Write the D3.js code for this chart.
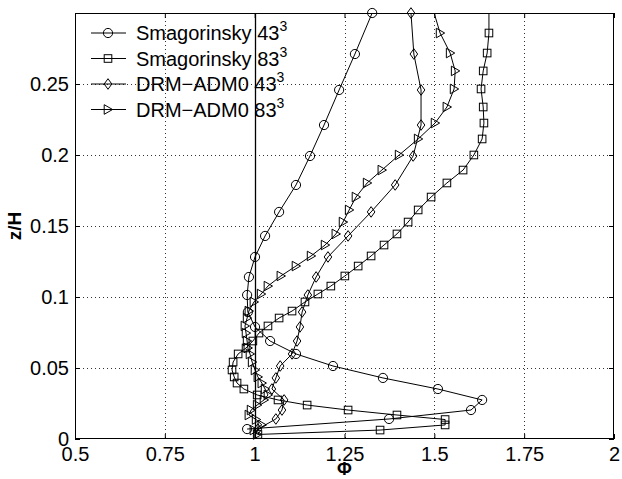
<!DOCTYPE html>
<html>
<head>
<meta charset="utf-8">
<script src="https://cdn.jsdelivr.net/npm/d3@7"></script>
<style>
  body { margin: 0; background: #fff; }
  text { font-family: "Liberation Sans", Arial, Helvetica, sans-serif; fill: #000; }
</style>
</head>
<body>
<svg id="chart" width="622" height="479"></svg>
<script>
// Axis ticks
const xTicks = [0.5, 0.75, 1, 1.25, 1.5, 1.75, 2];
const xTickLabels = ["0.5", "0.75", "1", "1.25", "1.5", "1.75", "2"];
const yTicks = [0, 0.05, 0.1, 0.15, 0.2, 0.25];
const yTickLabels = ["0", "0.05", "0.1", "0.15", "0.2", "0.25"];

// Legend entries (base text + superscript)
const seriesNames = ["Smagorinsky 43", "Smagorinsky 83", "DRM\u2212ADM0 43", "DRM\u2212ADM0 83"];
const seriesSup = ["3", "3", "3", "3"];
const seriesMarkers = ["circle", "square", "diamond", "triangle"];

// Vertical grid heights z/H
const z43 = [0.3000, 0.2711, 0.2458, 0.2211, 0.1993, 0.1789, 0.1599, 0.1430, 0.1282, 0.1141, 0.1014,
             0.0894, 0.0789, 0.0690, 0.0599, 0.0514, 0.0430, 0.0352, 0.0275, 0.0204, 0.0141, 0.0070];
const z83 = [0.3012, 0.2859, 0.2718, 0.2592, 0.2465, 0.2338, 0.2225, 0.2113, 0.2000, 0.1894, 0.1803,
             0.1704, 0.1613, 0.1528, 0.1444, 0.1366, 0.1289, 0.1218, 0.1148, 0.1077, 0.1021, 0.0965,
             0.0901, 0.0852, 0.0796, 0.0746, 0.0690, 0.0641, 0.0599, 0.0542, 0.0486, 0.0437, 0.0394,
             0.0352, 0.0310, 0.0275, 0.0239, 0.0204, 0.0169, 0.0137, 0.0099, 0.0063, 0.0032];

// Profiles of Phi
const phiSmag43 = [1.327, 1.279, 1.235, 1.193, 1.154, 1.115, 1.068, 1.029, 1.001, 0.984, 0.979,
                   0.981, 1.001, 1.043, 1.115, 1.218, 1.357, 1.510, 1.633, 1.602, 1.374, 0.979];
const phiSmag83 = [1.652, 1.652, 1.647, 1.636, 1.630, 1.636, 1.638, 1.633, 1.610, 1.580, 1.535,
                   1.491, 1.455, 1.427, 1.396, 1.360, 1.324, 1.288, 1.251, 1.212, 1.176, 1.140,
                   1.104, 1.068, 1.037, 1.012, 0.995, 0.976, 0.954, 0.940, 0.937, 0.943, 0.951,
                   0.970, 1.007, 1.065, 1.146, 1.260, 1.396, 1.530, 1.530, 1.349, 1.009];
const phiDrm43 = [1.435, 1.443, 1.463, 1.463, 1.441, 1.391, 1.324, 1.260, 1.204, 1.171, 1.148,
                  1.132, 1.126, 1.118, 1.104, 1.071, 1.059, 1.048, 1.082, 1.076, 1.059, 1.009];
const phiDrm83 = [1.498, 1.516, 1.544, 1.558, 1.555, 1.535, 1.502, 1.455, 1.402, 1.354, 1.313,
                  1.282, 1.263, 1.246, 1.226, 1.196, 1.157, 1.115, 1.073, 1.037, 1.018, 0.998,
                  0.984, 0.979, 0.973, 0.976, 0.979, 0.981, 0.987, 0.993, 1.001, 1.009, 1.020,
                  1.029, 1.037, 1.026, 1.007, 0.990, 0.984, 1.004, 1.020, 0.998, 1.007];

const series = [
  { z: z43, phi: phiSmag43 },
  { z: z83, phi: phiSmag83 },
  { z: z43, phi: phiDrm43 },
  { z: z83, phi: phiDrm83 }
];

const svg = d3.select("#chart");
const L = 75, R = 614, T = 13, B = 439;
const x = d3.scaleLinear().domain([0.5, 2]).range([L, R]);
const y = d3.scaleLinear().domain([0, 0.3]).range([B, T]);

svg.append("defs").append("clipPath").attr("id", "plotClip")
  .append("rect").attr("x", L).attr("y", T).attr("width", R - L).attr("height", B - T);

// Dotted grid
const grid = svg.append("g").attr("stroke", "#333").attr("stroke-width", 1)
  .attr("stroke-dasharray", "1,3");
grid.selectAll("line.gx").data(xTicks.slice(1, -1)).join("line")
  .attr("x1", d => Math.round(x(d)) + 0.5).attr("x2", d => Math.round(x(d)) + 0.5)
  .attr("y1", T).attr("y2", B);
grid.selectAll("line.gy").data(yTicks.slice(1)).join("line")
  .attr("y1", d => Math.round(y(d)) + 0.5).attr("y2", d => Math.round(y(d)) + 0.5)
  .attr("x1", L).attr("x2", R);

// Reference line Phi = 1
svg.append("line")
  .attr("x1", Math.round(x(1)) + 0.5).attr("x2", Math.round(x(1)) + 0.5)
  .attr("y1", T).attr("y2", B)
  .attr("stroke", "#000").attr("stroke-width", 1.3);

// Axes with inward ticks on all four sides
const fs = 20;
const axB = svg.append("g").attr("transform", `translate(0,${B})`)
  .call(d3.axisBottom(x).tickValues(xTicks).tickFormat((d, i) => xTickLabels[i])
    .tickSizeInner(-5).tickSizeOuter(0).tickPadding(8));
const axL = svg.append("g").attr("transform", `translate(${L},0)`)
  .call(d3.axisLeft(y).tickValues(yTicks).tickFormat((d, i) => yTickLabels[i])
    .tickSizeInner(-5).tickSizeOuter(0).tickPadding(6));
const axT = svg.append("g").attr("transform", `translate(0,${T})`)
  .call(d3.axisTop(x).tickValues(xTicks).tickFormat("").tickSizeInner(-5).tickSizeOuter(0));
const axR = svg.append("g").attr("transform", `translate(${R},0)`)
  .call(d3.axisRight(y).tickValues(yTicks).tickFormat("").tickSizeInner(-5).tickSizeOuter(0));
[axB, axL, axT, axR].forEach(g => {
  g.select(".domain").remove();
  g.selectAll("line").attr("stroke", "#000");
  g.selectAll("text").attr("font-size", fs).attr("font-family", '"Liberation Sans", Arial, sans-serif')
    .attr("fill", "#000");
});

// Box
svg.append("rect").attr("x", L + 0.5).attr("y", T + 0.5)
  .attr("width", R - L - 1).attr("height", B - T - 1)
  .attr("fill", "none").attr("stroke", "#000").attr("stroke-width", 1);

// Marker shapes
function marker(sel, kind) {
  if (kind === "circle") {
    sel.append("circle").attr("r", 4.6);
  } else if (kind === "square") {
    sel.append("rect").attr("x", -3.8).attr("y", -3.8).attr("width", 7.6).attr("height", 7.6);
  } else if (kind === "diamond") {
    sel.append("path").attr("d", "M0,-5.3L3.8,0L0,5.3L-3.8,0Z");
  } else {
    sel.append("path").attr("d", "M4.6,0L-3.8,-4.8L-3.8,4.8Z");
  }
}

const line = d3.line().x(d => x(d[0])).y(d => y(d[1]));

series.forEach((s, k) => {
  const pts = s.phi.map((p, i) => [p, s.z[i]]);
  svg.append("path").datum(pts)
    .attr("d", line).attr("clip-path", "url(#plotClip)")
    .attr("fill", "none").attr("stroke", "#000").attr("stroke-width", 1);
  const g = svg.append("g").attr("fill", "none").attr("stroke", "#000").attr("stroke-width", 1);
  pts.filter(d => d[1] <= 0.3).forEach(d => {
    marker(g.append("g").attr("transform", `translate(${x(d[0])},${y(d[1])})`), seriesMarkers[k]);
  });
});

// Legend
const legY0 = 33, legDy = 25.5;
seriesNames.forEach((name, i) => {
  const gy = legY0 + i * legDy;
  const g = svg.append("g").attr("transform", `translate(0,${gy})`);
  g.append("line").attr("x1", 91).attr("x2", 126).attr("y1", 0).attr("y2", 0)
    .attr("stroke", "#000").attr("stroke-width", 1);
  const mg = g.append("g").attr("transform", "translate(108,0)")
    .attr("fill", "none").attr("stroke", "#000").attr("stroke-width", 1);
  marker(mg, seriesMarkers[i]);
  const t = g.append("text").attr("x", 136).attr("y", 7).attr("font-size", fs);
  t.append("tspan").text(name);
  t.append("tspan").attr("font-size", 14).attr("dy", -9).text(seriesSup[i]);
});

// Axis titles
svg.append("text").attr("x", x(1.25)).attr("y", 475)
  .attr("text-anchor", "middle").attr("font-size", 18).attr("font-weight", "bold").text("\u03A6");
svg.append("text").attr("transform", `translate(21,${y(0.15)}) rotate(-90)`)
  .attr("text-anchor", "middle").attr("font-size", 19).attr("font-weight", "bold").text("z/H");
</script>
</body>
</html>
